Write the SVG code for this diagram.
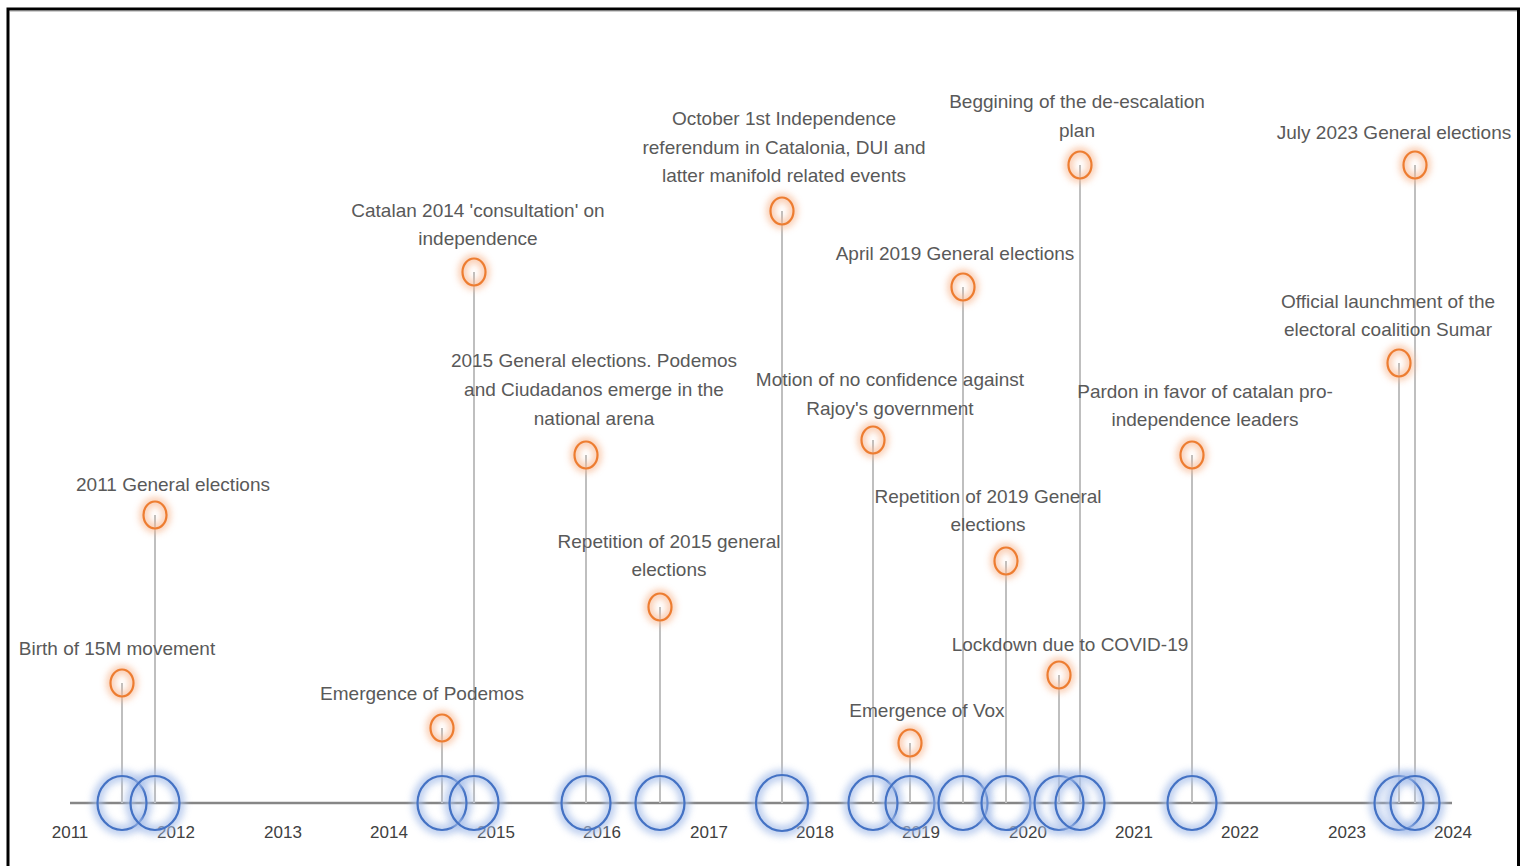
<svg xmlns="http://www.w3.org/2000/svg" width="1523" height="866" viewBox="0 0 1523 866">
<defs>
<filter id="glow" x="-50%" y="-50%" width="200%" height="200%"><feGaussianBlur stdDeviation="3.5"/></filter>
<style>
.frame{fill:#fff;stroke:#000;stroke-width:3}
.axis{stroke:#868686;stroke-width:2.5}
.stem{stroke:#bfbfbf;stroke-width:2}
.bglow{fill:none;stroke:#a9c0ea;stroke-width:11;opacity:0.75;filter:url(#glow)}
.blue{fill:none;stroke:#4472c4;stroke-width:2.2}
.oglow{fill:none;stroke:#f8b892;stroke-width:8;opacity:0.75;filter:url(#glow)}
.orange{fill:none;stroke:#ed7d31;stroke-width:2.2}
.lbl{font-family:"Liberation Sans",Arial,sans-serif;font-size:19px;fill:#595959;text-anchor:middle}
.yr{font-family:"Liberation Sans",Arial,sans-serif;font-size:17px;fill:#404040;text-anchor:middle}
</style>
</defs>
<rect class="frame" x="8" y="9" width="1510.5" height="870"/>
<line x1="10" y1="11.5" x2="1517" y2="11.5" stroke="#cfcfcf" stroke-width="1"/>
<g id="axis">
<line class="axis" x1="70" y1="803" x2="1452" y2="803"/>
<text class="yr" x="70" y="838">2011</text>
<text class="yr" x="176" y="838">2012</text>
<text class="yr" x="283" y="838">2013</text>
<text class="yr" x="389" y="838">2014</text>
<text class="yr" x="496" y="838">2015</text>
<text class="yr" x="602" y="838">2016</text>
<text class="yr" x="709" y="838">2017</text>
<text class="yr" x="815" y="838">2018</text>
<text class="yr" x="921" y="838">2019</text>
<text class="yr" x="1028" y="838">2020</text>
<text class="yr" x="1134" y="838">2021</text>
<text class="yr" x="1240" y="838">2022</text>
<text class="yr" x="1347" y="838">2023</text>
<text class="yr" x="1453" y="838">2024</text>
</g>
<g id="connectors">
<line class="stem" x1="122" y1="683" x2="122" y2="803"/>
<line class="stem" x1="155" y1="515" x2="155" y2="803"/>
<line class="stem" x1="442" y1="728" x2="442" y2="803"/>
<line class="stem" x1="474" y1="272" x2="474" y2="803"/>
<line class="stem" x1="586" y1="455" x2="586" y2="803"/>
<line class="stem" x1="660" y1="607" x2="660" y2="803"/>
<line class="stem" x1="782" y1="211" x2="782" y2="803"/>
<line class="stem" x1="873" y1="440" x2="873" y2="803"/>
<line class="stem" x1="910" y1="743" x2="910" y2="803"/>
<line class="stem" x1="963" y1="287" x2="963" y2="803"/>
<line class="stem" x1="1006" y1="561" x2="1006" y2="803"/>
<line class="stem" x1="1059" y1="675" x2="1059" y2="803"/>
<line class="stem" x1="1080" y1="165" x2="1080" y2="803"/>
<line class="stem" x1="1192" y1="455" x2="1192" y2="803"/>
<line class="stem" x1="1399" y1="363" x2="1399" y2="803"/>
<line class="stem" x1="1415" y1="165" x2="1415" y2="803"/>
</g>
<g id="e1"><ellipse class="bglow" cx="122" cy="803" rx="24.5" ry="27"/><ellipse class="blue" cx="122" cy="803" rx="24.5" ry="27"/><ellipse class="oglow" cx="122" cy="683" rx="11.5" ry="13.5"/><ellipse class="orange" cx="122" cy="683" rx="11.5" ry="13.5"/><text class="lbl" x="117" y="655">Birth of 15M movement</text></g>
<g id="e2"><ellipse class="bglow" cx="155" cy="803" rx="24.5" ry="27"/><ellipse class="blue" cx="155" cy="803" rx="24.5" ry="27"/><ellipse class="oglow" cx="155" cy="515" rx="11.5" ry="13.5"/><ellipse class="orange" cx="155" cy="515" rx="11.5" ry="13.5"/><text class="lbl" x="173" y="491">2011 General elections</text></g>
<g id="e3"><ellipse class="bglow" cx="442" cy="803" rx="24.5" ry="27"/><ellipse class="blue" cx="442" cy="803" rx="24.5" ry="27"/><ellipse class="oglow" cx="442" cy="728" rx="11.5" ry="13.5"/><ellipse class="orange" cx="442" cy="728" rx="11.5" ry="13.5"/><text class="lbl" x="422" y="700">Emergence of Podemos</text></g>
<g id="e4"><ellipse class="bglow" cx="474" cy="803" rx="24.5" ry="27"/><ellipse class="blue" cx="474" cy="803" rx="24.5" ry="27"/><ellipse class="oglow" cx="474" cy="272" rx="11.5" ry="13.5"/><ellipse class="orange" cx="474" cy="272" rx="11.5" ry="13.5"/><text class="lbl" x="478" y="217">Catalan 2014 'consultation' on</text><text class="lbl" x="478" y="245">independence</text></g>
<g id="e5"><ellipse class="bglow" cx="586" cy="803" rx="24.5" ry="27"/><ellipse class="blue" cx="586" cy="803" rx="24.5" ry="27"/><ellipse class="oglow" cx="586" cy="455" rx="11.5" ry="13.5"/><ellipse class="orange" cx="586" cy="455" rx="11.5" ry="13.5"/><text class="lbl" x="594" y="367">2015 General elections. Podemos</text><text class="lbl" x="594" y="396">and Ciudadanos emerge in the</text><text class="lbl" x="594" y="425">national arena</text></g>
<g id="e6"><ellipse class="bglow" cx="660" cy="803" rx="24.5" ry="27"/><ellipse class="blue" cx="660" cy="803" rx="24.5" ry="27"/><ellipse class="oglow" cx="660" cy="607" rx="11.5" ry="13.5"/><ellipse class="orange" cx="660" cy="607" rx="11.5" ry="13.5"/><text class="lbl" x="669" y="548">Repetition of 2015 general</text><text class="lbl" x="669" y="576">elections</text></g>
<g id="e7"><ellipse class="bglow" cx="782" cy="803" rx="26" ry="28"/><ellipse class="blue" cx="782" cy="803" rx="26" ry="28"/><ellipse class="oglow" cx="782" cy="211" rx="11.5" ry="13.5"/><ellipse class="orange" cx="782" cy="211" rx="11.5" ry="13.5"/><text class="lbl" x="784" y="125">October 1st Independence</text><text class="lbl" x="784" y="154">referendum in Catalonia, DUI and</text><text class="lbl" x="784" y="182">latter manifold related events</text></g>
<g id="e8"><ellipse class="bglow" cx="873" cy="803" rx="24.5" ry="27"/><ellipse class="blue" cx="873" cy="803" rx="24.5" ry="27"/><ellipse class="oglow" cx="873" cy="440" rx="11.5" ry="13.5"/><ellipse class="orange" cx="873" cy="440" rx="11.5" ry="13.5"/><text class="lbl" x="890" y="386">Motion of no confidence against</text><text class="lbl" x="890" y="415">Rajoy's government</text></g>
<g id="e9"><ellipse class="bglow" cx="910" cy="803" rx="24.5" ry="27"/><ellipse class="blue" cx="910" cy="803" rx="24.5" ry="27"/><ellipse class="oglow" cx="910" cy="743" rx="11.5" ry="13.5"/><ellipse class="orange" cx="910" cy="743" rx="11.5" ry="13.5"/><text class="lbl" x="927" y="717">Emergence of Vox</text></g>
<g id="e10"><ellipse class="bglow" cx="963" cy="803" rx="24.5" ry="27"/><ellipse class="blue" cx="963" cy="803" rx="24.5" ry="27"/><ellipse class="oglow" cx="963" cy="287" rx="11.5" ry="13.5"/><ellipse class="orange" cx="963" cy="287" rx="11.5" ry="13.5"/><text class="lbl" x="955" y="260">April 2019 General elections</text></g>
<g id="e11"><ellipse class="bglow" cx="1006" cy="803" rx="24.5" ry="27"/><ellipse class="blue" cx="1006" cy="803" rx="24.5" ry="27"/><ellipse class="oglow" cx="1006" cy="561" rx="11.5" ry="13.5"/><ellipse class="orange" cx="1006" cy="561" rx="11.5" ry="13.5"/><text class="lbl" x="988" y="503">Repetition of 2019 General</text><text class="lbl" x="988" y="531">elections</text></g>
<g id="e12"><ellipse class="bglow" cx="1059" cy="803" rx="24.5" ry="27"/><ellipse class="blue" cx="1059" cy="803" rx="24.5" ry="27"/><ellipse class="oglow" cx="1059" cy="675" rx="11.5" ry="13.5"/><ellipse class="orange" cx="1059" cy="675" rx="11.5" ry="13.5"/><text class="lbl" x="1070" y="651">Lockdown due to COVID-19</text></g>
<g id="e13"><ellipse class="bglow" cx="1080" cy="803" rx="24.5" ry="27"/><ellipse class="blue" cx="1080" cy="803" rx="24.5" ry="27"/><ellipse class="oglow" cx="1080" cy="165" rx="11.5" ry="13.5"/><ellipse class="orange" cx="1080" cy="165" rx="11.5" ry="13.5"/><text class="lbl" x="1077" y="108">Beggining of the de-escalation</text><text class="lbl" x="1077" y="137">plan</text></g>
<g id="e14"><ellipse class="bglow" cx="1192" cy="803" rx="24.5" ry="27"/><ellipse class="blue" cx="1192" cy="803" rx="24.5" ry="27"/><ellipse class="oglow" cx="1192" cy="455" rx="11.5" ry="13.5"/><ellipse class="orange" cx="1192" cy="455" rx="11.5" ry="13.5"/><text class="lbl" x="1205" y="398">Pardon in favor of catalan pro-</text><text class="lbl" x="1205" y="426">independence leaders</text></g>
<g id="e15"><ellipse class="bglow" cx="1399" cy="803" rx="24.5" ry="27"/><ellipse class="blue" cx="1399" cy="803" rx="24.5" ry="27"/><ellipse class="oglow" cx="1399" cy="363" rx="11.5" ry="13.5"/><ellipse class="orange" cx="1399" cy="363" rx="11.5" ry="13.5"/><text class="lbl" x="1388" y="308">Official launchment of the</text><text class="lbl" x="1388" y="336">electoral coalition Sumar</text></g>
<g id="e16"><ellipse class="bglow" cx="1415" cy="803" rx="24.5" ry="27"/><ellipse class="blue" cx="1415" cy="803" rx="24.5" ry="27"/><ellipse class="oglow" cx="1415" cy="165" rx="11.5" ry="13.5"/><ellipse class="orange" cx="1415" cy="165" rx="11.5" ry="13.5"/><text class="lbl" x="1394" y="139">July 2023 General elections</text></g>
</svg>
